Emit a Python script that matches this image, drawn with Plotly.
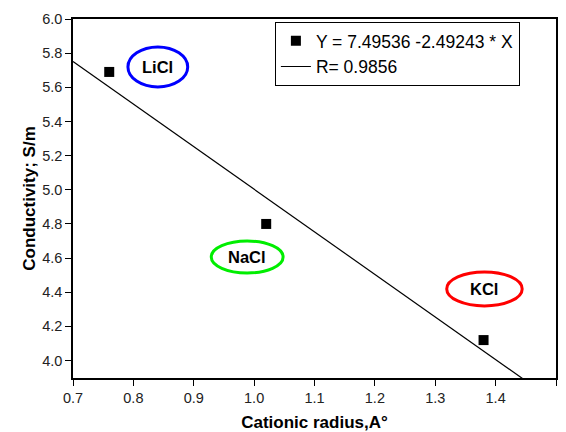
import plotly.graph_objects as go

salts = ["LiCl", "NaCl", "KCl"]
radius = [0.76, 1.02, 1.38]
conductivity = [5.69, 4.80, 4.12]
intercept = 7.49536
slope = -2.49243
fit_x = [0.7, 1.5]
ellipse_colors = ["#0000ff", "#00ee00", "#ff0000"]
# ellipse extents in data coords (x0, x1, y0, y1)
ellipse_boxes = [(0.791, 0.890, 5.602, 5.836),
                 (0.929, 1.048, 4.513, 4.700),
                 (1.319, 1.444, 4.320, 4.519)]
xticks = [0.7, 0.8, 0.9, 1.0, 1.1, 1.2, 1.3, 1.4, 1.5]
yticks = [4.0, 4.2, 4.4, 4.6, 4.8, 5.0, 5.2, 5.4, 5.6, 5.8, 6.0]

FONT = "Liberation Sans, Arial"

fig = go.Figure()
fig.add_trace(go.Scatter(x=radius, y=conductivity, mode="markers",
                         marker=dict(symbol="square", size=10, color="black"),
                         name="Y = 7.49536 -2.49243 * X"))
fy = [intercept + slope * v for v in fit_x]
fig.add_trace(go.Scatter(x=fit_x, y=fy, mode="lines",
                         line=dict(color="black", width=1.2),
                         name="R= 0.9856"))

for s, c, (x0, x1, y0, y1) in zip(salts, ellipse_colors, ellipse_boxes):
    fig.add_shape(type="circle", xref="x", yref="y", x0=x0, x1=x1, y0=y0, y1=y1,
                  line=dict(color=c, width=3))
    fig.add_annotation(x=(x0 + x1) / 2, y=(y0 + y1) / 2, text="<b>%s</b>" % s,
                       showarrow=False, font=dict(size=16.5, color="black", family=FONT))

tickfont = dict(family=FONT, size=14.5, color="#222")

fig.update_layout(
    width=566, height=432,
    margin=dict(l=73, r=10, t=19, b=54),
    plot_bgcolor="white", paper_bgcolor="white",
    font=dict(family=FONT, size=14, color="#222"),
    showlegend=True,
    legend=dict(x=0.418, y=0.992, xanchor="left", yanchor="top",
                bordercolor="black", borderwidth=1, bgcolor="white",
                font=dict(size=17.5, color="black"), tracegroupgap=0),
    xaxis=dict(range=[0.7, 1.5], tickvals=xticks,
               ticktext=["%.1f" % v for v in xticks], tickfont=tickfont,
               showline=True, linecolor="black", linewidth=1.5, mirror=True,
               ticks="outside", ticklen=6, tickcolor="black", tickwidth=1.3,
               showgrid=False, zeroline=False, automargin=False,
               title=dict(text="<b>Cationic radius,A°</b>", font=dict(size=17, color="black"), standoff=17)),
    yaxis=dict(range=[3.898, 6.0], tickvals=yticks,
               ticktext=["%.1f" % v for v in yticks], tickfont=tickfont,
               showline=True, linecolor="black", linewidth=1.5, mirror=True,
               ticks="outside", ticklen=6, tickcolor="black", tickwidth=1.3,
               showgrid=False, zeroline=False, automargin=False,
               title=dict(text="<b>Conductivity; S/m</b>", font=dict(size=17, color="black"), standoff=2)),
)
fig.write_html("out.html")
